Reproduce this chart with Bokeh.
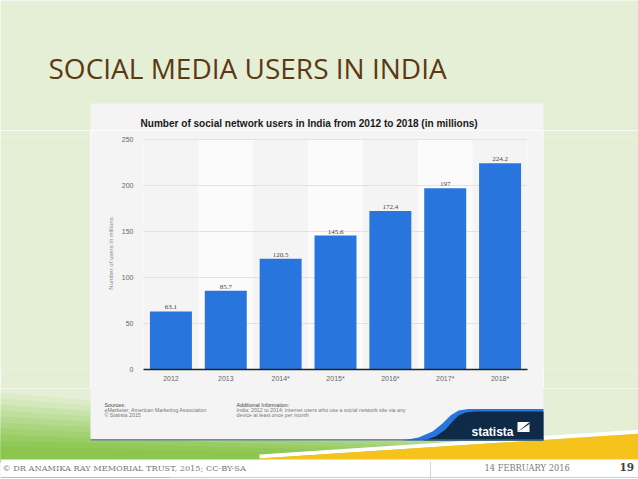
from bokeh.plotting import figure
from bokeh.models import ColumnDataSource, Range1d, FactorRange, Label, LabelSet
from bokeh.layouts import column, row
from bokeh.embed import file_html
from bokeh.resources import INLINE

# ---------------- data ----------------
years = ["2012", "2013", "2014*", "2015*", "2016*", "2017*", "2018*"]
users = [63.1, 85.7, 120.5, 145.6, 172.4, 197, 224.2]
value_labels = ["63.1", "85.7", "120.5", "145.6", "172.4", "197", "224.2"]
y_ticks = [0, 50, 100, 150, 200, 250]

slide_title = "SOCIAL MEDIA USERS IN INDIA"
chart_title = "Number of social network users in India from 2012 to 2018 (in millions)"
y_axis_title = "Number of users in millions"
sources_lines = ["Sources:", "eMarketer; American Marketing Association", "\u00a9 Statista 2015"]
info_lines = ["Additional Information:",
              "India; 2012 to 2014; internet users who use a social network site via any",
              "device at least once per month"]
footer_left = "\u00a9 DR ANAMIKA RAY MEMORIAL TRUST, 2015; CC-BY-SA"
footer_date = "14 FEBRUARY 2016"
footer_page = "19"

# ---------------- styles ----------------
SLIDE_BG = "#e4efd6"
CARD_BG = "#f4f4f4"
BAND_BG = "#fbfbfb"
BAR = "#2876dd"
NAVY = "#0e2a47"

# page-pixel regions
X0, X1, Y0, Y1 = 0, 638, 0, 479
CX0, CX1, CY0, CY1 = 90, 543, 103, 440
PY0, PY1 = 130, 388          # vertical extent of the chart figure


def region(x0, x1, y0, y1, bg=SLIDE_BG):
    f = figure(width=x1 - x0, height=y1 - y0, x_range=Range1d(x0, x1),
               y_range=Range1d(y1, y0), output_backend="svg", toolbar_location=None,
               min_border=0, x_axis_location=None, y_axis_location=None,
               outline_line_color=None, background_fill_color=bg, border_fill_color=bg)
    f.grid.visible = False
    return f


def text(f, x, y, s, size, color, font="Liberation Sans", style="normal",
         align="left", baseline="middle"):
    f.add_layout(Label(x=x, y=y, text=s, text_font=font, text_font_style=style,
                       text_font_size=size, text_color=color, text_align=align,
                       text_baseline=baseline))


def rect(f, x0, x1, y0, y1, color):
    f.patch(x=[x0, x1, x1, x0], y=[y0, y0, y1, y1], fill_color=color, line_color=None)


# decorative swoosh shapes at the slide bottom (page coordinates)
green_cols = ["#dcecc9", "#d3e8bb", "#c9e3ac", "#bfdf9d", "#b5da8e",
              "#abd580", "#a2d172", "#99cd64", "#91c958", "#8cc64f"]
deco_xs, deco_ys, deco_colors = [], [], []
for k, c in enumerate(green_cols):
    deco_xs.append([0, 560, 640, 640, 0])
    deco_ys.append([392 + 6 * k, 440 + 2 * k, 444 + 2 * k, 462, 462])
    deco_colors.append(c)
deco_xs += [[259, 640, 640, 259], [259, 640, 640, 259], [0, 640, 640, 0]]
deco_ys += [[454, 429, 433, 458], [458, 433, 460, 460], [459, 459, 490, 490]]
deco_colors += ["#ffffff", "#f6c21c", "#ffffff"]

# ---- top: slide title + card header ----
top = region(X0, X1, Y0, PY0)
rect(top, CX0, CX1, CY0, PY0 + 1, CARD_BG)
text(top, 48, 67, slide_title, "28px", "#5c3813", font="Open Sans", baseline="alphabetic")
text(top, 140, 123, chart_title, "10.05px", "#1a1a1a", style="bold")

# ---- middle: side strips + chart ----
left = region(X0, CX0, PY0, PY1)
right = region(CX1, X1, PY0, PY1)

p = figure(width=CX1 - CX0, height=PY1 - PY0, output_backend="svg", toolbar_location=None,
           x_range=FactorRange(*years, range_padding=0), y_range=Range1d(0, 252.2),
           min_border_left=53, min_border_right=16, min_border_top=7, min_border_bottom=19,
           outline_line_color=None, background_fill_color=CARD_BG, border_fill_color=CARD_BG)

bands = ColumnDataSource(dict(x=years[1::2], top=[250] * len(years[1::2])))
p.vbar(x="x", top="top", width=1.0, source=bands, fill_color=BAND_BG, line_color=None,
       level="image")

src = ColumnDataSource(dict(x=years, top=users, lab=value_labels))
p.vbar(x="x", top="top", width=0.765, source=src, fill_color=BAR, line_color=None)
p.add_layout(LabelSet(x="x", y="top", text="lab", source=src, y_offset=2,
                      text_align="center", text_baseline="bottom",
                      text_font="Liberation Sans", text_font_size="7px", text_color="#444444"))

p.xgrid.grid_line_color = None
p.ygrid.grid_line_color = "#e2e2e2"
p.ygrid.ticker = y_ticks

p.yaxis.ticker = y_ticks
p.yaxis.axis_line_color = None
p.yaxis.major_tick_line_color = None
p.yaxis.minor_tick_line_color = None
p.yaxis.major_tick_out = 0
p.yaxis.major_tick_in = 0
p.yaxis.major_label_text_font = "Liberation Sans"
p.yaxis.major_label_text_font_size = "7px"
p.yaxis.major_label_text_color = "#666666"
p.yaxis.major_label_standoff = 10
p.yaxis.axis_label = y_axis_title
p.yaxis.axis_label_text_font = "Liberation Sans"
p.yaxis.axis_label_text_font_style = "normal"
p.yaxis.axis_label_text_font_size = "6px"
p.yaxis.axis_label_text_color = "#8a8a8a"
p.yaxis.axis_label_standoff = 5

p.xaxis.axis_line_color = "#222222"
p.xaxis.axis_line_width = 1.5
p.xaxis.major_tick_line_color = None
p.xaxis.minor_tick_line_color = None
p.xaxis.major_tick_out = 0
p.xaxis.major_tick_in = 0
p.xaxis.major_label_text_font = "Liberation Sans"
p.xaxis.major_label_text_font_size = "7px"
p.xaxis.major_label_text_color = "#666666"
p.xaxis.major_label_standoff = 5

# ---- bottom: card footer (sources + logo), swoosh, slide footer ----
bottom = region(X0, X1, PY1, Y1)
bottom.patches(xs=deco_xs, ys=deco_ys, fill_color=deco_colors, line_color=None)
rect(bottom, CX0, CX1, PY1 - 1, CY1, CARD_BG)
for i, t in enumerate(sources_lines):
    text(bottom, 104, 404 + i * 5, t, "5.3px", "#444444" if i == 0 else "#777777")
for i, t in enumerate(info_lines):
    text(bottom, 236, 404 + i * 5, t, "5.3px", "#444444" if i == 0 else "#777777")
bottom.patch(x=[402, 418, 432, 442, 450, 458, 468, 543, 543],
             y=[440, 437, 431, 423, 415, 410, 408.5, 408.5, 440], fill_color=BAR,
             line_color=None)
bottom.patch(x=[423, 435, 445, 452, 458, 465, 475, 543, 543],
             y=[440, 436, 429, 421, 415, 412, 411, 411, 440], fill_color=NAVY,
             line_color=None)
text(bottom, 471, 431, "statista", "12px", "#ffffff", style="bold", baseline="alphabetic")
bottom.patch(x=[517, 529, 529, 517], y=[431.5, 431.5, 421.5, 421.5], fill_color="#ffffff",
             line_color=None)
bottom.patch(x=[517, 529, 529, 520], y=[431.5, 423.5, 421.5, 429], fill_color=NAVY,
             line_color=None)
rect(bottom, CX0, CX1, 438.8, 440, "#3c6878")

rect(bottom, 429.5, 430.5, 461, 479, "#d5d5d5")
rect(bottom, 0, 170, 476.5, 477.5, "#a7d36f")
rect(bottom, 170, 638, 476.5, 477.5, "#f6d05a")
text(bottom, 2, 467, footer_left, "8.2px", "#7a7a7a", font="DejaVu Serif")
text(bottom, 484, 467, footer_date, "8.3px", "#7a7a7a", font="DejaVu Serif")
text(bottom, 619, 466.5, footer_page, "10.5px", "#404040", font="DejaVu Serif", style="bold")

layout = column(top, row(left, p, right), bottom)
open("out.html", "w").write(file_html(layout, INLINE))
